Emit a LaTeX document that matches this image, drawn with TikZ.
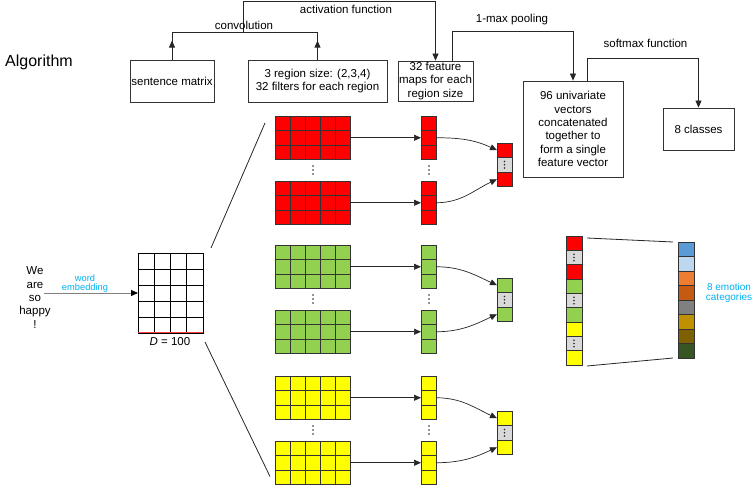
\documentclass[tikz,border=0pt]{standalone}
\usepackage{fontspec}
\setmainfont{Liberation Sans}
\usetikzlibrary{arrows.meta}
\definecolor{cnnred}{HTML}{FF0000}
\definecolor{cnngreen}{HTML}{92D050}
\definecolor{cnnyellow}{HTML}{FFFF00}
\definecolor{dotgray}{HTML}{D9D9D9}
\definecolor{labelblue}{HTML}{00B0F0}
\definecolor{emoa}{HTML}{5B9BD5}
\definecolor{emob}{HTML}{BDD7EE}
\definecolor{emoc}{HTML}{ED7D31}
\definecolor{emod}{HTML}{C55A11}
\definecolor{emoe}{HTML}{808080}
\definecolor{emof}{HTML}{BF9000}
\definecolor{emog}{HTML}{7F6000}
\definecolor{emoh}{HTML}{375623}
\tikzset{
  box/.style={draw=black!80, line width=0.8pt, align=center, inner sep=0pt, font=\fontsize{11.5}{13.3}\selectfont},
  lab/.style={inner sep=0pt, align=center, font=\fontsize{11.5}{13.3}\selectfont},
  link/.style={draw=black!85, line width=0.8pt},
  arr/.style={link, -{Triangle[length=7pt,width=6pt]}},
  cell/.style={draw=black!80, line width=0.9pt},
  grid/.style={inner sep=0pt, outer sep=0pt},
  dot/.style={fill=black!85}
}
\begin{document}
\begin{tikzpicture}[x=1pt,y=-1pt]
\useasboundingbox (0,0) rectangle (753,489);
\node[lab, font=\fontsize{16}{18}\selectfont] (alg) at (39,62) {Algorithm};
\node[box, minimum width=84pt, minimum height=42pt] (sent) at (172,81) {sentence matrix};
\node[box, minimum width=139pt, minimum height=42pt] (reg) at (317.5,81) {3 region size: (2,3,4)\\32 filters for each region};
\node[box, minimum width=75pt, minimum height=40pt] (fmap) at (435.5,81) {32 feature\\maps for each\\region size};
\node[box, minimum width=100pt, minimum height=96pt] (univ) at (573,129) {96 univariate\\vectors\\concatenated\\together to\\form a single\\feature vector};
\node[box, minimum width=71pt, minimum height=42pt] (cls) at (698.5,129) {8 classes};
\draw[arr] (sent.north) -- ++(0,-19); \draw[link] (sent.north) -- ++(0,-27) -| (reg.north); \draw[arr] (reg.north) -- ++(0,-19);
\coordinate (act) at (243,33);
\draw[arr] (act) -- ++(0,-32) -| (fmap.north);
\draw[arr] ([xshift=17pt]fmap.north) -- ++(0,-29) -| (univ.north);
\draw[arr] ([xshift=14pt]univ.north) -- ++(0,-22) -| (cls.north);
\node[lab] (conv) at (244,25) {convolution}; \node[lab] (actf) at (346,9) {activation function};
\node[lab] (pool) at (512,20) {1-max pooling}; \node[lab] (soft) at (645.5,43) {softmax function};
\node[lab] (words) at (35,297.5) {We\\are\\so\\happy\\!};
\node[lab, text=labelblue, font=\fontsize{9.3}{9.3}\selectfont] (wemb) at (85,283.5) {word\\embedding};
\node[grid, minimum width=65pt, minimum height=80pt] (sm) at (170.5,293) {};
\foreach \i in {0,...,3} \foreach \j in {0,...,4} { \draw[black, line width=0.8pt] (138+\i*16.25,253+\j*16) rectangle ++(16.25,16); };
\draw[cnnred!75, line width=1pt] (sm.south west) -- (sm.south east);
\coordinate (we) at (44,293);
\draw[arr, draw=gray, -{Triangle[length=7pt,width=6pt,black]}] (we) -- (we -| sm.west);
\node[lab] (dim) at (170,342) {\textit{D} = 100};
\foreach \col/\nm/\ty/\py in {cnnred/r/116/143, cnngreen/g/245/278, cnnyellow/y/376/411} {
  \fill[\col] (275,\ty) rectangle ++(75,43.5); \fill[\col] (275,\ty+65) rectangle ++(75,43.5);
  \fill[\col] (421,\ty) rectangle ++(15,43.5); \fill[\col] (421,\ty+65) rectangle ++(15,43.5);
  \fill[\col] (497,\py) rectangle ++(15,43.5); \fill[dotgray] (497,\py+14.5) rectangle ++(15,14.5);
  \foreach \i in {0,...,4} \foreach \j in {0,1,2} { \draw[cell] (275+\i*15,\ty+\j*14.5) rectangle ++(15,14.5); \draw[cell] (275+\i*15,\ty+65+\j*14.5) rectangle ++(15,14.5); };
  \foreach \j in {0,1,2} { \draw[cell] (421,\ty+\j*14.5) rectangle ++(15,14.5); \draw[cell] (421,\ty+65+\j*14.5) rectangle ++(15,14.5); \draw[cell] (497,\py+\j*14.5) rectangle ++(15,14.5); };
  \node[grid, minimum width=75pt, minimum height=43.5pt] (\nm-a) at (312.5,\ty+21.75) {}; \node[grid, minimum width=75pt, minimum height=43.5pt] (\nm-b) at (312.5,\ty+86.75) {};
  \node[grid, minimum width=15pt, minimum height=43.5pt] (\nm-ca) at (428.5,\ty+21.75) {}; \node[grid, minimum width=15pt, minimum height=43.5pt] (\nm-cb) at (428.5,\ty+86.75) {};
  \node[grid, minimum width=15pt, minimum height=43.5pt] (\nm-p) at (504.5,\py+21.75) {};
  \foreach \d in {-4,0,4} { \fill[dot] (313,\ty+54+\d) circle[radius=0.9]; \fill[dot] (429,\ty+54+\d) circle[radius=0.9]; \fill[dot] (504.5,\py+21.75+0.8*\d) circle[radius=0.9]; };
  \draw[arr, line width=0.7pt] (\nm-a) -- (\nm-ca); \draw[arr, line width=0.7pt] (\nm-b) -- (\nm-cb);
  \draw[arr, line width=0.7pt] (\nm-ca.east) to[out=0,in=155] ([yshift=-7.25pt]\nm-p.north west);
  \draw[arr, line width=0.7pt] (\nm-cb.east) to[out=0,in=205] ([yshift=7.25pt]\nm-p.south west);
}
\draw[link] ([shift={(8,-5)}]sm.north east) -- ([shift={(-10,7)}]r-a.north west);
\draw[link] ([shift={(2,9)}]sm.south east) -- ([shift={(-5,-8)}]y-b.south west);
\foreach \col [count=\k from 0] in {cnnred,dotgray,cnnred,cnngreen,dotgray,cnngreen,cnnyellow,dotgray,cnnyellow} { \fill[\col] (566,236+\k*14.33) rectangle ++(16,14.33); };
\foreach \k in {0,...,8} { \draw[cell] (566,236+\k*14.33) rectangle ++(16,14.33); };
\foreach \k in {1,4,7} \foreach \d in {-3.2,0,3.2} { \fill[dot] (574,243.2+\k*14.33+\d) circle[radius=0.9]; };
\node[grid, minimum width=16pt, minimum height=129pt] (cat) at (574,300.5) {};
\foreach \col [count=\k from 0] in {emoa,emob,emoc,emod,emoe,emof,emog,emoh} { \fill[\col] (678,242+\k*14.5) rectangle ++(16,14.5); };
\foreach \k in {0,...,7} { \draw[cell] (678,242+\k*14.5) rectangle ++(16,14.5); };
\node[grid, minimum width=16pt, minimum height=116pt] (emo) at (686,300) {};
\draw[link] ([shift={(5,2)}]cat.north east) -- ([shift={(-5,0)}]emo.north west);
\draw[link] ([shift={(5,1)}]cat.south east) -- ([shift={(-5,0)}]emo.south west);
\node[lab, text=labelblue, font=\fontsize{10}{10}\selectfont] (emolab) at (729,293) {8 emotion\\categories};
\end{tikzpicture}
\end{document}
